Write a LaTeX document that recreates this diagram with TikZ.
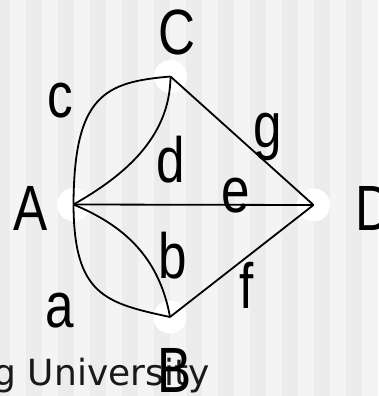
\documentclass[tikz,border=0pt]{standalone}
\usepackage{fontspec}
\usepackage{graphicx}
\setmainfont{Liberation Sans}
\newfontfamily\capfont{DejaVu Sans}
\definecolor{stripeA}{RGB}{236,236,236}
\definecolor{stripeB}{RGB}{244,244,244}
\newcommand{\lbltxt}[1]{\scalebox{0.8}[1]{#1}}
\tikzset{
  vtx/.style={circle, fill=white, draw=none, minimum size=33pt, inner sep=0pt},
  edgeline/.style={line width=1.8pt, black},
  lbl/.style={anchor=base, inner sep=0pt, font=\fontsize{64}{70}\selectfont},
  captext/.style={anchor=base west, inner sep=0pt, font=\capfont\fontsize{36}{40}\selectfont, text=black!90}
}
\begin{document}
\begin{tikzpicture}[x=1pt, y=-1pt]
\useasboundingbox (0,0) rectangle (378,396);
\clip (0,0) rectangle (378,396);
\fill[stripeB] (0,0) rectangle (378,396);
\foreach \k in {0,...,12} {
  \fill[stripeA] ({32*\k-6},0) rectangle ({32*\k+10},396);
}
% vertices
\node[vtx] (A) at (73.5,204.5) {};
\node[vtx] (C) at (170.5,76.5) {};
\node[vtx] (D) at (313.5,205) {};
\node[vtx] (B) at (170,317) {};
% edges
\draw[edgeline] (A.center) .. controls (74,95) and (105,82) .. (C.center);
\draw[edgeline] (A.center) .. controls (120,178) and (170,140) .. (C.center);
\draw[edgeline] (A.center) -- (D.center);
\draw[edgeline] (C.center) -- (D.center);
\draw[edgeline] (B.center) -- (D.center);
\draw[edgeline] (A.center) .. controls (115,222) and (158,250) .. (B.center);
\draw[edgeline] (A.center) .. controls (74,295) and (105,303) .. (B.center);
% caption text
\node[captext] (uni) at (-6.5,385) {g University};
% labels
\node[lbl] (lC) at (177,55) {\lbltxt{C}};
\node[lbl] (lA) at (30.5,230) {\lbltxt{A}};
\node[lbl] (lD) at (374,230) {\lbltxt{D}};
\node[lbl] (lB) at (175,392) {\lbltxt{B}};
\node[lbl] (lc) at (60,117) {\lbltxt{c}};
\node[lbl] (ld) at (171,182) {\lbltxt{d}};
\node[lbl] (lg) at (267.5,147) {\lbltxt{g}};
\node[lbl] (le) at (235.5,212) {\lbltxt{e}};
\node[lbl] (lb) at (172.5,278) {\lbltxt{b}};
\node[lbl] (lf) at (246.5,308) {\lbltxt{f}};
\node[lbl] (la) at (59.5,327) {\lbltxt{a}};
\end{tikzpicture}
\end{document}
